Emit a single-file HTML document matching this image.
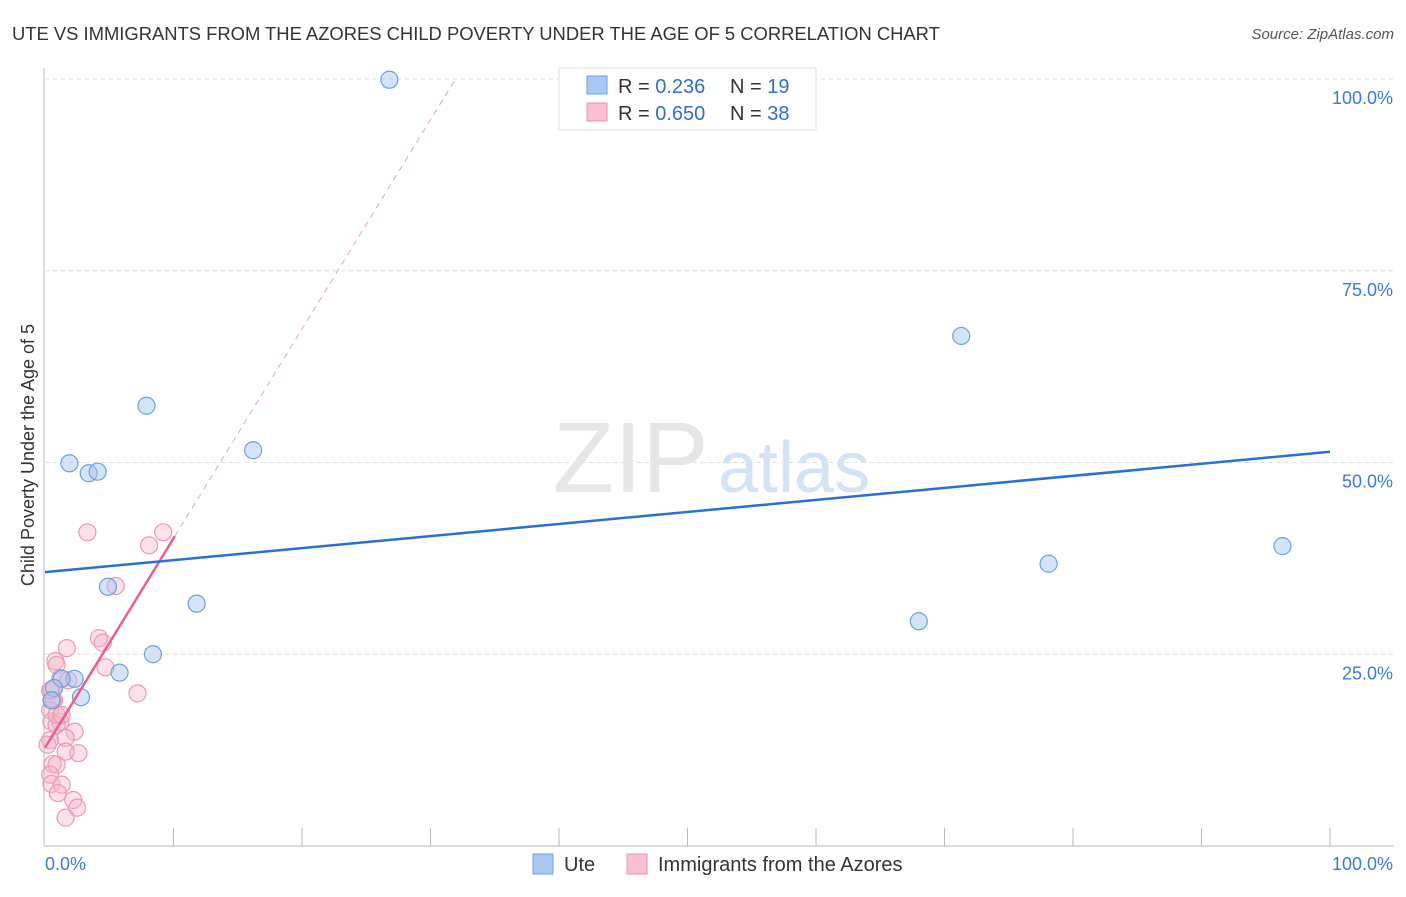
<!DOCTYPE html>
<html><head><meta charset="utf-8"><style>
body{margin:0;background:#fff;font-family:"Liberation Sans",sans-serif}
svg text{font-family:"Liberation Sans",sans-serif}
</style></head><body>
<svg width="1406" height="892">
<text x="12" y="40" font-size="18.4" fill="#333">UTE VS IMMIGRANTS FROM THE AZORES CHILD POVERTY UNDER THE AGE OF 5 CORRELATION CHART</text>
<text x="1394" y="39" font-size="15" fill="#555" font-style="italic" text-anchor="end">Source: ZipAtlas.com</text>
<g id="grid"></g>
<text x="553" y="492" font-size="100" fill="#e6e6e6" font-family="Liberation Serif">ZIP</text>
<text x="718" y="492" font-size="72" fill="#d3e2f4">atlas</text>
<text transform="translate(34,455) rotate(-90)" font-size="18" fill="#333" text-anchor="middle">Child Poverty Under the Age of 5</text>
<g id="marks"></g>
<g>
<rect x="559" y="68" width="257" height="62" fill="#fff" stroke="#ddd"/>
<rect x="587" y="76" width="20" height="18" fill="#a9c8f2" stroke="#6f9fdc"/>
<rect x="587" y="103" width="20" height="18" fill="#f8c0d0" stroke="#e892ae"/>
<text x="618" y="93" font-size="20" fill="#333">R = <tspan fill="#2f6fd0">0.236</tspan></text>
<text x="730" y="93" font-size="20" fill="#333">N = <tspan fill="#2f6fd0">19</tspan></text>
<text x="618" y="120" font-size="20" fill="#333">R = <tspan fill="#2f6fd0">0.650</tspan></text>
<text x="730" y="120" font-size="20" fill="#333">N = <tspan fill="#2f6fd0">38</tspan></text>
</g>
<g>
<rect x="533" y="854" width="20" height="20" fill="#a9c8f2" stroke="#6f9fdc"/>
<text x="564" y="871" font-size="20" fill="#333">Ute</text>
<rect x="627" y="854" width="20" height="20" fill="#f8c0d0" stroke="#e892ae"/>
<text x="658" y="871" font-size="20" fill="#333">Immigrants from the Azores</text>
</g>
</svg>
<script>
const yTicks=[25,50,75,100];
const yTickLabels=["25.0%","50.0%","75.0%","100.0%"];
const xTicks=[0,10,20,30,40,50,60,70,80,90,100];
const uteX=[26.8,71.3,7.9,16.2,1.9,3.4,4.1,96.3,78.1,4.9,11.8,68.0,8.4,5.8,2.3,1.3,0.7,2.8,0.5];
const uteY=[99.9,66.5,57.4,51.6,49.9,48.6,48.8,39.1,36.8,33.8,31.6,29.3,25.0,22.6,21.8,21.8,20.6,19.4,19.0];
const azX=[3.3,9.2,8.1,5.5,4.2,4.5,1.7,0.8,0.9,4.7,7.2,1.2,1.8,0.5,0.7,0.4,0.5,1.2,0.9,2.3,0.4,1.6,2.6,1.6,0.6,0.9,0.4,0.5,1.3,1.0,2.2,2.5,1.6,0.2,0.6,0.9,1.3,0.4];
const azY=[40.9,40.9,39.2,33.9,27.1,26.5,25.8,24.1,23.6,23.3,19.9,21.9,21.6,20.3,19.0,17.7,16.2,16.2,15.8,14.9,13.8,14.1,12.1,12.3,10.7,10.6,9.3,8.1,8.0,6.9,6.0,5.0,3.7,13.2,19.0,17.1,17.1,20.3];
const uteLine=[35.7,51.4];
const azLine=[12.8,2.73];
const NS="http://www.w3.org/2000/svg";
const X=v=>45+v*12.85, Y=v=>846-v*7.67;
function mk(p,t,a){const e=document.createElementNS(NS,t);for(const k in a)e.setAttribute(k,a[k]);p.appendChild(e);return e;}
const g=document.getElementById('grid'), m=document.getElementById('marks');
let ax=mk(g,'line',{x1:44,y1:68,x2:44,y2:846,stroke:'#bbb'});


let bx=mk(g,'line',{x1:44,y1:846,x2:1394,y2:846,stroke:'#bbb'});


yTicks.forEach((t,i)=>{
 const l=mk(g,'line',{x1:45,x2:1394,y1:Y(t),y2:Y(t),stroke:'#ddd','stroke-dasharray':'4,4'});
 
 
 const tx=mk(g,'text',{x:1393,y:Y(t)+25,'font-size':18,fill:'#3b7ad8','text-anchor':'end'});
 tx.textContent=yTickLabels[i];
 
 
});
xTicks.forEach(t=>{if(t===0)return;
 const l=mk(g,'line',{x1:X(t),x2:X(t),y1:828,y2:846,stroke:'#bbb'});
 
 
});
[[45,'0.0%','start'],[1393,'100.0%','end']].forEach(([x,s,a])=>{
 const tx=mk(g,'text',{x:x,y:870,'font-size':18,fill:'#3b7ad8','text-anchor':a});tx.textContent=s;
 
 
});
azX.forEach((x,i)=>{const c=mk(m,'circle',{cx:X(x),cy:Y(azY[i]),r:8.5,fill:'rgba(248,180,200,0.4)',stroke:'#e99ab4','stroke-width':1.2});
 
 });
uteX.forEach((x,i)=>{const c=mk(m,'circle',{cx:X(x),cy:Y(uteY[i]),r:8.5,fill:'rgba(160,196,240,0.45)',stroke:'#6f9fdc','stroke-width':1.2});
 
 });
const xEnd=(100-azLine[0])/azLine[1];
let d=mk(m,'line',{x1:X(10.1),y1:Y(azLine[0]+azLine[1]*10.1),x2:X(xEnd),y2:Y(100),stroke:'#eaa0b8','stroke-dasharray':'6,5'});


let s=mk(m,'line',{x1:X(0),y1:Y(azLine[0]),x2:X(10.1),y2:Y(azLine[0]+azLine[1]*10.1),stroke:'#e8608e','stroke-width':2.5});


let u=mk(m,'line',{x1:X(0),y1:Y(uteLine[0]),x2:X(100),y2:Y(uteLine[1]),stroke:'#2a6fd4','stroke-width':2.5});


</script>
</body></html>
